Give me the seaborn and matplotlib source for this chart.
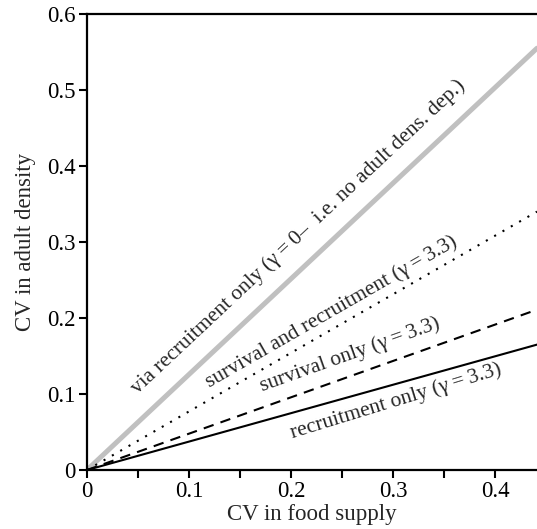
import numpy as np
import pandas as pd
import matplotlib
matplotlib.use("Agg")
import matplotlib.pyplot as plt
import seaborn as sns

# CV in food supply (line end points)
food_cv = [0.0, 0.441]
# CV in adult density for each scenario
via_recruit = [0.0, 0.555]
surv_and_recruit = [0.0, 0.340]
surv_only = [0.0, 0.211]
recruit_only = [0.0, 0.165]

labels = ["via recruitment only (γ\u2009=\u20090–  i.e. no adult dens. dep.)",
          "survival and recruitment (γ\u2009=\u20093.3)",
          "survival only (γ\u2009=\u20093.3)",
          "recruitment only (γ\u2009=\u20093.3)"]
# baseline-left anchor of each label
label_x = [0.050, 0.120, 0.172, 0.201]
label_y = [0.100, 0.108, 0.103, 0.042]
label_tilt = [0.0, 0.0, 0.0, 1.5]

sns.set_style("ticks")
plt.rcParams['font.family'] = ['Liberation Serif', 'DejaVu Serif']

fig = plt.figure(figsize=(5.37, 5.29), dpi=100)
ax = fig.add_axes([0.162, 0.1115, 0.838, 0.862])

df = pd.DataFrame({"x": food_cv * 4,
                   "y": via_recruit + surv_and_recruit + surv_only + recruit_only,
                   "series": ["a"] * 2 + ["b"] * 2 + ["c"] * 2 + ["d"] * 2})

styles = {"a": dict(color="#c0c0c0", lw=3.6, ls="-"),
          "b": dict(color="black", lw=1.5, ls=(0, (1, 3.6))),
          "c": dict(color="black", lw=1.5, ls=(0, (5, 3.5))),
          "d": dict(color="black", lw=1.5, ls="-")}
for key, st in styles.items():
    sub = df[df["series"] == key]
    sns.lineplot(data=sub, x="x", y="y", ax=ax, color=st["color"],
                 linewidth=st["lw"], linestyle=st["ls"], legend=False)

ax.set_xlim(0, 0.441)
ax.set_ylim(0, 0.6)
ax.set_xticks([0, 0.1, 0.2, 0.3, 0.4])
ax.set_xticklabels(["0", "0.1", "0.2", "0.3", "0.4"])
ax.set_xticks(np.arange(0.05, 0.45, 0.1), minor=True)
ax.set_yticks([0, 0.1, 0.2, 0.3, 0.4, 0.5, 0.6])
ax.set_yticklabels(["0", "0.1", "0.2", "0.3", "0.4", "0.5", "0.6"])
ax.tick_params(which="both", direction="out", length=6, width=1.5,
               labelsize=16.5, color="black", labelcolor="black", pad=2)
for s in ["left", "bottom", "top"]:
    ax.spines[s].set_linewidth(1.6)
    ax.spines[s].set_color("black")
ax.spines["right"].set_visible(False)

ax.set_xlabel("CV in food supply", fontsize=16.5, labelpad=1)
ax.set_ylabel("CV in adult density", fontsize=16.5, labelpad=8)

fig.canvas.draw()
for lab, lx, ly, yy, tilt in zip(labels, label_x, label_y,
                                 [via_recruit, surv_and_recruit, surv_only, recruit_only],
                                 label_tilt):
    p0 = ax.transData.transform((food_cv[0], yy[0]))
    p1 = ax.transData.transform((food_cv[1], yy[1]))
    ang = np.degrees(np.arctan2(p1[1] - p0[1], p1[0] - p0[0])) + tilt
    ax.text(lx, ly, lab, rotation=ang, rotation_mode="anchor",
            ha="left", va="baseline", fontsize=15.5)

fig.savefig("out.png", dpi=100)
